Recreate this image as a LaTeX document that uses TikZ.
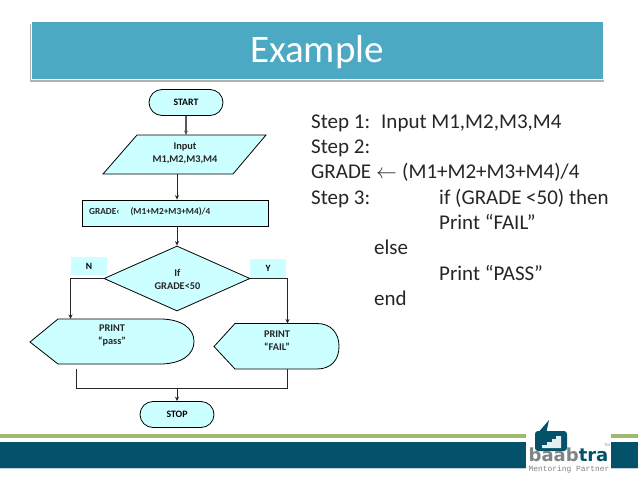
\documentclass[tikz,border=0pt]{standalone}
\usepackage{fontspec}
\setmainfont{Carlito}
\newfontfamily\logofont{DejaVu Sans}
\setmonofont{Liberation Mono}
\usetikzlibrary{shapes.geometric,shapes.misc,arrows.meta}
\definecolor{barblue}{HTML}{4BA9C3}
\definecolor{boxcyan}{HTML}{CCFFFF}
\definecolor{teal}{HTML}{04516A}
\definecolor{stripe}{HTML}{A3B66F}
\definecolor{logogrey}{HTML}{7F8487}
\tikzset{
  box/.style={draw=black,fill=boxcyan,line width=0.8pt,inner sep=0pt},
  term/.style={box,rounded rectangle,minimum width=74pt,minimum height=26pt,font=\bfseries\fontsize{9.8}{11}\selectfont},
  lbl/.style={font=\bfseries\fontsize{10.3}{13}\selectfont,align=center,text=black!85,inner sep=0pt},
  tag/.style={fill=boxcyan,inner sep=0pt,font=\bfseries\fontsize{9.5}{11}\selectfont},
  link/.style={draw=black!85,line width=0.8pt,-{Stealth[length=4.5pt,width=4pt]}},
  plain/.style={draw=black!85,line width=0.8pt},
  steptxt/.style={anchor=base west,inner sep=0pt,font=\fontsize{21}{24}\selectfont,text=black!85},
}
\begin{document}
\begin{tikzpicture}[x=1pt,y=-1pt]
\useasboundingbox (0,0) rectangle (638,479);
\fill[white] (0,0) rectangle (638,479);
% title bar
\fill[black!30] (29.5,24) rectangle (604,82);
\fill[barblue,draw=white,line width=0.8pt] (31,21) rectangle (603,79.5);
\node[text=white,font=\fontsize{39}{44}\selectfont,inner sep=0pt] (title) at (317,52) {Example};
% footer
\fill[stripe] (0,433.5) rectangle (526,438);
\fill[stripe] (611,433.5) rectangle (638,438);
\fill[teal] (0,441.7) rectangle (526,467.5);
\fill[teal] (611,441.7) rectangle (638,467.5);
\fill[teal!25] (0,467.5) rectangle (526,469);
\fill[teal!25] (611,467.5) rectangle (638,469);
% logo
\fill[teal,rounded corners=3pt] (535,431) rectangle (567,451);
\fill[teal] (537,434) -- (549,420) -- (546,434) -- cycle;
\fill[white!90!teal] (542,448) -- (542,445) -- (547,445) -- (547,442) -- (552,442) -- (552,439) -- (556,439) -- (556,436) -- (561,436) -- (561,448) -- cycle;
\node[anchor=base west,inner sep=0pt,font=\logofont\bfseries\fontsize{18}{20}\selectfont] (brand) at (528.5,461.5) {\textcolor{logogrey}{baab}\textcolor{teal}{tra}};
\node[anchor=base west,inner sep=0pt,text=logogrey,font=\ttfamily\fontsize{7.9}{9}\selectfont] (partner) at (528.5,471.5) {Mentoring Partner};
\node[inner sep=0pt,text=logogrey,font=\fontsize{4}{5}\selectfont] (tm) at (607,445) {TM};
% tags
\node[tag,minimum width=36pt,minimum height=18pt] (ntag) at (89,266) {N};
\node[tag,minimum width=36pt,minimum height=19pt] (ytag) at (268,268.5) {Y};
% nodes
\node[term] (start) at (186,102.5) {START};
\draw[box] (137,135) -- (266,135) -- (233,174) -- (103,174) -- cycle;
\node[lbl] (input) at (185,153) {Input\\M1,M2,M3,M4};
\coordinate (inputtop) at (186,135);
\coordinate (inputbot) at (177,174);
\node[box,minimum width=186pt,minimum height=26pt] (grade) at (175,213) {};
\node[lbl,anchor=base west,font=\bfseries\fontsize{9.3}{13}\selectfont] (gradetxt) at (89,214) {GRADE‹\hspace{11pt}(M1+M2+M3+M4)/4};
\node[box,diamond,minimum width=146pt,minimum height=65pt] (cond) at (177,278.5) {};
\node[lbl] (condtxt) at (177.5,279) {If\\GRADE<50};
\draw[box] (58,319) -- (160,319) .. controls (181,319) and (194,328) .. (194,341.5) .. controls (194,355) and (181,364) .. (160,364) -- (58,364) -- (30,342) -- cycle;
\node[lbl] (pass) at (112,335.5) {PRINT\\“pass”};
\draw[box] (235,323.5) -- (317,323.5) .. controls (331,323.5) and (339,333) .. (339,346.5) .. controls (339,360) and (331,369) .. (317,369) -- (235,369) -- (214,346.5) -- cycle;
\node[lbl] (fail) at (277,340.5) {PRINT\\“FAIL”};
\node[term] (stop) at (177,414.5) {STOP};
% free connector ends
\coordinate (passtop) at (70.5,319);
\coordinate (failtop) at (287.5,323.5);
\coordinate (passbot) at (76.5,369);
\coordinate (failbot) at (287.5,369);
\coordinate (merge) at (177,388.5);
% connectors
\draw[link,draw=black!65,line width=1.3pt] (start.south) -- (inputtop);
\draw[link] (inputbot) -- (inputbot |- grade.north);
\draw[link] (cond.north |- grade.south) -- (cond.north);
\draw[link] (cond.west) -- (passtop |- cond.west) -- (passtop);
\draw[link] (cond.east) -- (failtop |- cond.east) -- (failtop);
\draw[plain] (passbot) -- (passbot |- merge) -- (failbot |- merge) -- (failbot);
\draw[link] (merge) -- (stop.north);
% steps
\node[steptxt] (s1) at (311,128) {Step 1:};
\node[steptxt] (s1b) at (381,128) {Input M1,M2,M3,M4};
\node[steptxt] (s2) at (311,153.3) {Step 2:};
\node[steptxt] (s3a) at (311,178.6) {GRADE};
\node[steptxt] (s3b) at (376,178.6) {$\leftarrow$};
\node[steptxt] (s3c) at (402,178.6) {(M1+M2+M3+M4)/4};
\node[steptxt] (s4) at (311,204) {Step 3:};
\node[steptxt] (s4b) at (439,204) {if (GRADE <50) then};
\node[steptxt] (s5) at (439,229.3) {Print “FAIL”};
\node[steptxt] (s6) at (374,254.6) {else};
\node[steptxt] (s7) at (439,280) {Print “PASS”};
\node[steptxt] (s8) at (374,305.3) {end};
\end{tikzpicture}
\end{document}
